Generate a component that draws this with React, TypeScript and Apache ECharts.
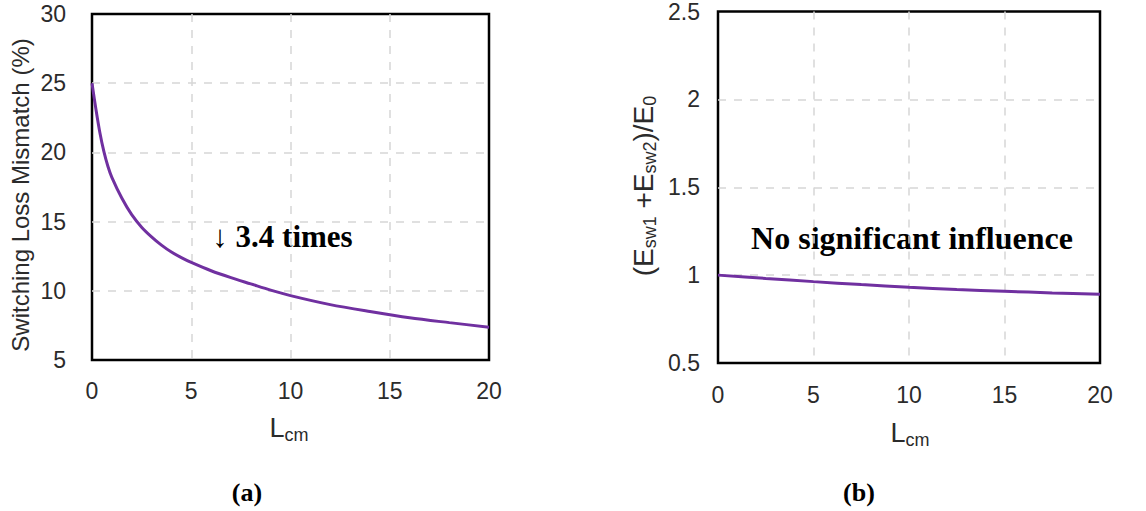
import React, { useEffect, useRef } from "react";
import * as echarts from "echarts";

// Panel (a): switching loss mismatch (%) vs Lcm
const xA = [0, 0.2, 0.4, 0.6, 0.8, 1, 1.5, 2, 2.5, 3, 3.5, 4, 4.5, 5, 6, 7, 8, 9, 10, 12, 14, 16, 18, 20];
const yA = [25, 23.1, 21.4, 20.05, 19.0, 18.2, 16.7, 15.5, 14.6, 13.9, 13.3, 12.8, 12.4, 12.05, 11.45, 10.95, 10.5, 10.05, 9.65, 9.0, 8.5, 8.05, 7.7, 7.37];

// Panel (b): (Esw1+Esw2)/E0 vs Lcm
const xB = [0, 2.5, 5, 7.5, 10, 12.5, 15, 17.5, 20];
const yB = [1.0, 0.981, 0.963, 0.946, 0.931, 0.918, 0.908, 0.899, 0.891];

const annotationA = "↓ 3.4 times";
const annotationB = "No significant influence";
const yTitleA = "Switching Loss Mismatch (%)";
const panelLabels = ["(a)", "(b)"];

const SANS = "'Liberation Sans', Arial, sans-serif";
const SERIF = "'Liberation Serif', 'Times New Roman', serif";
const TXT = "#2b2b2b";
const PURPLE = "#7030A0";

function zip(xs: number[], ys: number[]) {
  return xs.map((x, i) => [x, ys[i]]);
}

const splitLine = {
  show: true,
  showMinLine: false,
  showMaxLine: false,
  lineStyle: { color: "#d6d6d6", width: 1.5, type: [8, 8] },
};

function xAxis(gridIndex: number, margin: number) {
  return {
    gridIndex,
    type: "value",
    min: 0,
    max: 20,
    interval: 5,
    axisLine: { show: false },
    axisTick: { show: false },
    axisLabel: { margin, fontSize: 23, color: TXT, fontFamily: SANS },
    splitLine,
  };
}

function yAxis(gridIndex: number, min: number, max: number, interval: number, margin: number) {
  return {
    gridIndex,
    type: "value",
    min,
    max,
    interval,
    axisLine: { show: false },
    axisTick: { show: false },
    axisLabel: { margin, fontSize: 23, color: TXT, fontFamily: SANS },
    splitLine,
  };
}

function lcm(x: number, y: number, sub: number) {
  return {
    type: "text",
    x,
    y,
    silent: true,
    style: {
      text: "{m|L}{s|cm}",
      textAlign: "center",
      textVerticalAlign: "middle",
      rich: {
        m: { fontSize: 27, fontFamily: SANS, fill: TXT },
        s: { fontSize: 18, fontFamily: SANS, fill: TXT, padding: [sub, 0, 0, 0] },
      },
    },
  };
}

function serifText(text: string, x: number, y: number, size: number) {
  return {
    type: "text",
    x,
    y,
    silent: true,
    style: { text, fontSize: size, fontWeight: "bold", fontFamily: SERIF, fill: "#000", textAlign: "center", textVerticalAlign: "middle" },
  };
}

export default function App() {
  const ref = useRef<HTMLDivElement>(null);
  useEffect(() => {
    const chart = echarts.init(ref.current!, null, { renderer: "svg" });
    const option: any = {
      animation: false,
      backgroundColor: "#ffffff",
      grid: [
        { left: 92, top: 14, width: 397, height: 346, show: true, borderColor: "#000", borderWidth: 2.5, backgroundColor: "transparent" },
        { left: 718, top: 8, width: 382, height: 355, show: true, borderColor: "#000", borderWidth: 2.5, backgroundColor: "transparent" },
      ],
      xAxis: [xAxis(0, 19), xAxis(1, 20)],
      yAxis: [yAxis(0, 5, 30, 5, 26), yAxis(1, 0.5, 2.5, 0.5, 18)],
      series: [
        {
          type: "line",
          xAxisIndex: 0,
          yAxisIndex: 0,
          data: zip(xA, yA),
          showSymbol: false,
          smooth: 0.3,
          lineStyle: { color: PURPLE, width: 3 },
        },
        {
          type: "line",
          xAxisIndex: 1,
          yAxisIndex: 1,
          data: zip(xB, yB),
          showSymbol: false,
          smooth: 0.3,
          lineStyle: { color: PURPLE, width: 3 },
        },
      ],
      graphic: [
        {
          type: "text",
          x: 20.5,
          y: 195,
          rotation: Math.PI / 2,
          silent: true,
          style: { text: yTitleA, fontSize: 24, fontFamily: SANS, fill: TXT, textAlign: "center", textVerticalAlign: "middle" },
        },
        {
          type: "text",
          x: 643,
          y: 186,
          rotation: Math.PI / 2,
          silent: true,
          style: {
            text: "{m|(E}{s|sw1}{m| +E}{s|sw2}{m|)/E}{s|0}",
            textAlign: "center",
            textVerticalAlign: "middle",
            rich: {
              m: { fontSize: 28, fontFamily: SANS, fill: TXT },
              s: { fontSize: 18, fontFamily: SANS, fill: TXT, padding: [14, 0, 0, 0] },
            },
          },
        },
        lcm(289, 428, 13),
        lcm(910, 432.5, 14),
        serifText(annotationA, 282.5, 236, 31),
        serifText(annotationB, 912, 237.5, 32),
        serifText(panelLabels[0], 247, 492, 26),
        serifText(panelLabels[1], 859, 492, 26),
      ],
    };
    chart.setOption(option);
    return () => chart.dispose();
  }, []);
  return (
    <div
      ref={ref}
      style={{ position: "fixed", left: 0, top: 0, width: 1146, height: 511, background: "#fff" }}
    />
  );
}
